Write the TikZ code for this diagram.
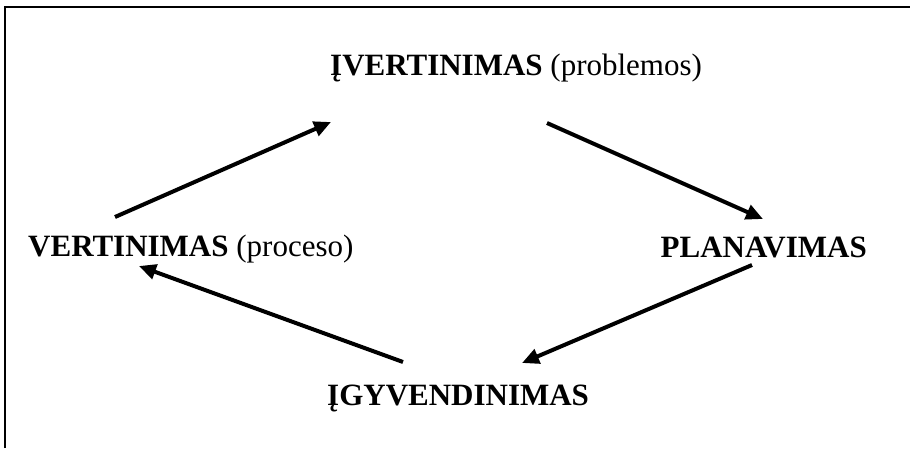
\documentclass[tikz,border=0pt]{standalone}
\usepackage{fontspec}
\setmainfont{Liberation Serif}
\usetikzlibrary{arrows.meta}
\begin{document}
\begin{tikzpicture}[x=1pt,y=-1pt,
  lbl/.style={inner sep=0pt,font=\fontsize{31}{36}\selectfont},
  conn/.style={line width=4pt,-{Triangle[length=17pt,width=15pt]}},
  frame/.style={line width=2.2pt}]
\useasboundingbox (0,0) rectangle (910,448);
\draw[frame] (5,448) -- (5,7) -- (910,7);
\node[lbl,anchor=base west] (top) at (330,75) {\textbf{ĮVERTINIMAS} (problemos)};
\node[lbl,anchor=base west] (left) at (28,256) {\textbf{VERTINIMAS} (proceso)};
\node[lbl,anchor=base east] (right) at (867,257) {\textbf{PLANAVIMAS}};
\node[lbl,anchor=base west] (bot) at (327,405) {\textbf{ĮGYVENDINIMAS}};
\coordinate (a1s) at (115,217);
\coordinate (a1e) at (331,122);
\coordinate (a2s) at (547,123);
\coordinate (a2e) at (763,219);
\coordinate (a3s) at (752,265);
\coordinate (a3e) at (522,363);
\coordinate (a4s) at (403,362);
\coordinate (a4e) at (139,266);
\draw[conn] (a1s) -- (a1e);
\draw[conn] (a2s) -- (a2e);
\draw[conn] (a3s) -- (a3e);
\draw[conn] (a4s) -- (a4e);
\end{tikzpicture}
\end{document}
